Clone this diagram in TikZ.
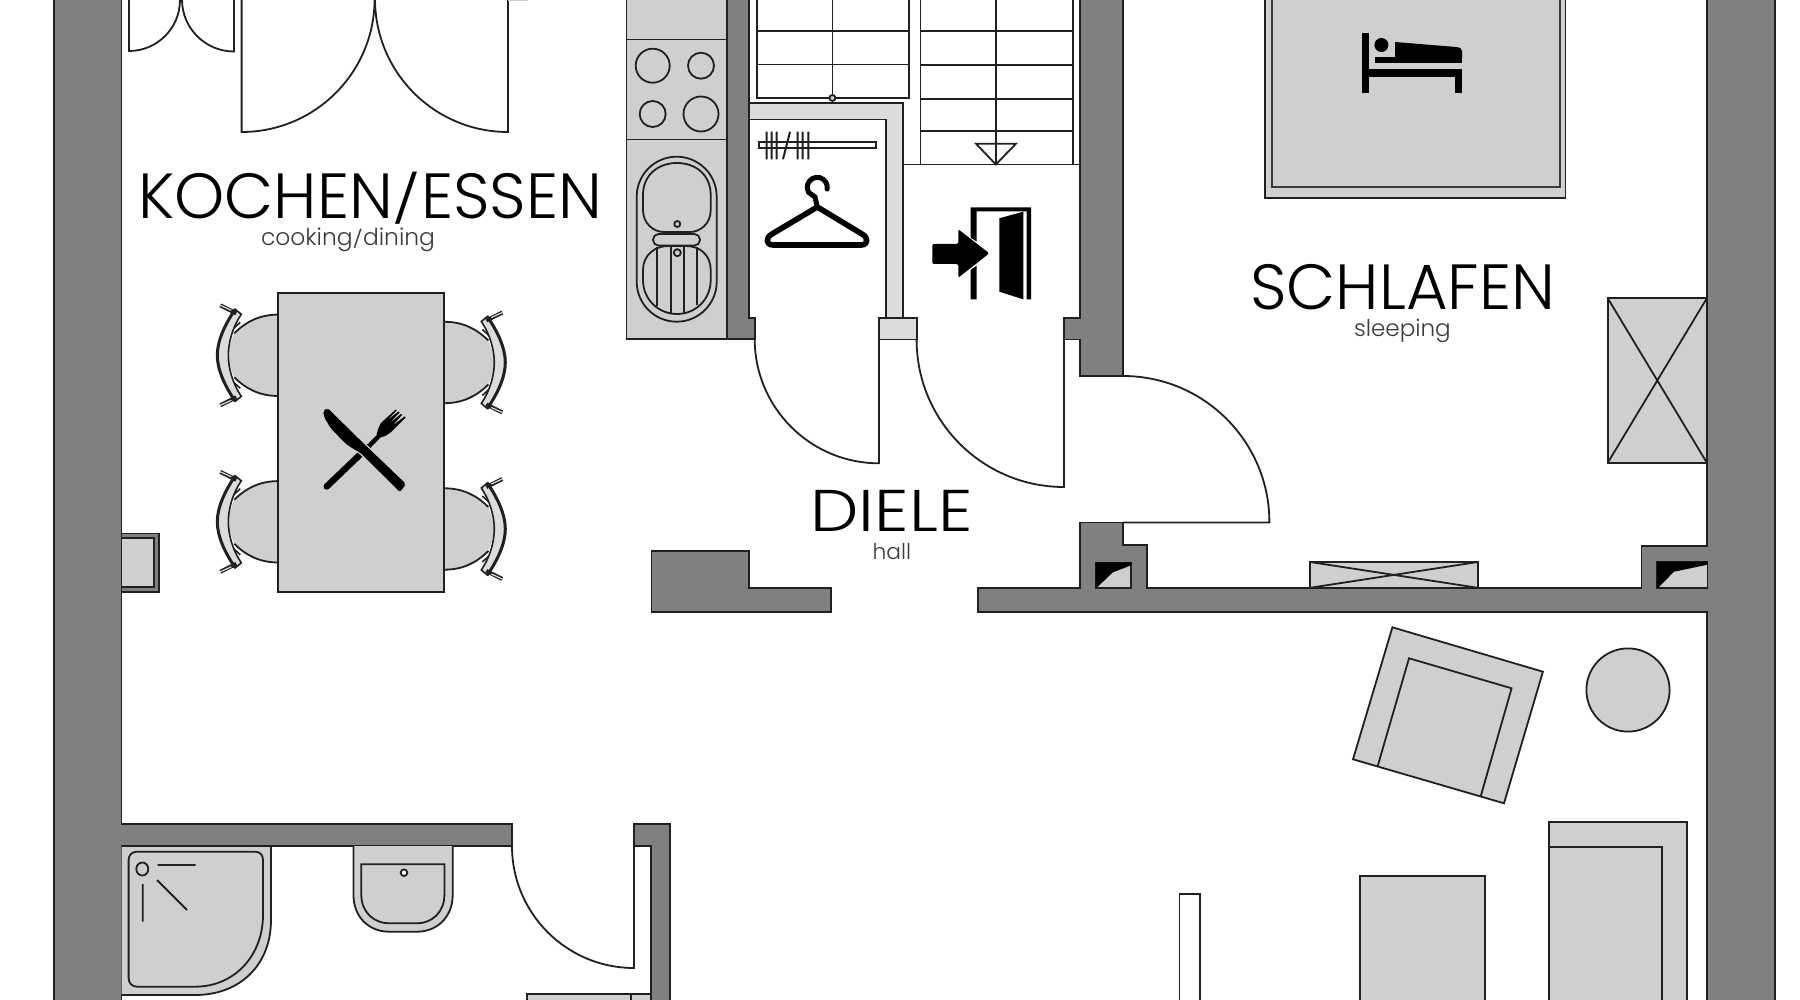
\documentclass[tikz,border=0pt]{standalone}
\usepackage{fontspec}
\usepackage{graphicx}
\newfontfamily\lightfont{Poppins}[UprightFont=* Light]
\definecolor{wallgray}{HTML}{808080}
\definecolor{ink}{HTML}{202020}
\definecolor{lightfill}{HTML}{CFCFCF}
\definecolor{closetfill}{HTML}{DCDCDC}
\definecolor{subink}{HTML}{3A3A3A}
\newcommand{\shortslash}{\raisebox{0.03em}{\scalebox{1}[0.74]{/}}}
\tikzset{
  ln/.style={draw=ink,line width=0.9pt,line join=miter},
  wall/.style={ln,fill=wallgray},
  furn/.style={ln,fill=lightfill},
  plain/.style={ln,fill=white},
  solid ink/.style={fill=black,draw=none},
  biglabel/.style={anchor=base west,inner sep=0pt,outer sep=0pt,text=black,font=\lightfont},
  sublabel/.style={anchor=base west,inner sep=0pt,outer sep=0pt,text=subink,font=\lightfont}
}
\newcommand{\seatchair}[3]{%
 \begin{scope}[shift={(#1,#2)},xscale=#3]
  \path[fill=lightfill] (0,40.7) .. controls (18,40.7) and (32,34) .. (44,22) .. controls (48,12) and (50,6) .. (50,0) .. controls (50,-6) and (48,-12) .. (44,-22) .. controls (32,-34) and (18,-40.7) .. (0,-40.7) -- cycle;
  \draw[ln] (0,40.7) .. controls (18,40.7) and (32,34) .. (44,22);
  \draw[ln] (0,-40.7) .. controls (18,-40.7) and (32,-34) .. (44,-22);
  \path[fill=white] (39,33) -- (49,31) -- (49,23) -- cycle;
  \path[fill=white] (39,-33) -- (49,-31) -- (49,-23) -- cycle;
  \draw[ink,line width=0.8pt] (38,33) -- (49,23);
  \draw[ink,line width=0.8pt] (38,-33) -- (49,-23);
  \path[draw=ink,line width=0.8pt,fill=closetfill] (43,46) .. controls (54,30) and (61,14) .. (61,0) .. controls (61,-14) and (54,-30) .. (43,-46) -- (37,-41) .. controls (46,-28) and (50,-12) .. (50,0) .. controls (50,12) and (46,28) .. (37,41) -- cycle;
  \draw[ink,line width=1.5pt] (43,46) .. controls (54,30) and (61,14) .. (61,0) .. controls (61,-14) and (54,-30) .. (43,-46);
  \draw[ink,line width=2pt] (42,42) -- (58,50);
  \draw[ink,line width=2pt] (42,-42) -- (58,-50);
  \draw[closetfill,line width=0.6pt] (47,45) -- (58,50);
  \draw[closetfill,line width=0.6pt] (47,-45) -- (58,-50);
 \end{scope}}
\newcommand{\ventshape}[4]{%
  \path[furn] (#1,#3) rectangle (#2,#4);
  \path[solid ink] (#1,#3) -- (#2,#3) -- (#2,#3+3) -- (#1+17,#3+10) -- (#1+1,#4) -- (#1,#4) -- cycle;
}
\begin{document}
\begin{tikzpicture}[x=0.5pt,y=-0.5pt]
\useasboundingbox (0,0) rectangle (1800,1000);
\fill[white] (0,0) rectangle (1800,1000);

% kitchen
\path[furn] (626.5,-5) rectangle (727,339);
\draw[ln] (626.5,39.6) -- (727,39.6);
\draw[ln] (626.5,139.5) -- (727,139.5);
\foreach \cx/\cy/\r/\nm in {652.7/65.7/17/b1,701/65.7/13/b2,652.7/114/13/b3,701/114/17.5/b4}
  \draw[ln] (\cx,\cy) circle[radius=\r];
\path[furn,rounded corners=20pt] (636.7,156.7) rectangle (716.7,321.7);
\draw[ln] (643,195) .. controls (643,175) and (658,163) .. (677,163) .. controls (696,163) and (710.7,175) .. (710.7,195) -- (710.7,210) .. controls (710.7,224) and (700,232) .. (690,232) -- (664,232) .. controls (654,232) and (643,224) .. (643,210) -- cycle;
\draw[ln] (643,270) .. controls (643,255) and (655,246) .. (668,246) -- (686,246) .. controls (700,246) and (710.7,255) .. (710.7,270) -- (710.7,280) .. controls (710.7,300) and (695,314) .. (677,314) .. controls (659,314) and (643,300) .. (643,280) -- cycle;
\draw[ln,rounded corners=2.8pt] (653,234) rectangle (700,245.6);
\draw[ln] (656.7,247) -- (656.7,306) (670.7,246) -- (670.7,313) (684,246) -- (684,313) (697.3,247) -- (697.3,305);
\path[ln,fill=lightfill] (677.3,224) circle[radius=3];
\path[ln,fill=lightfill] (677.3,252.7) circle[radius=3.5];

% stairs
\draw[ln] (756.6,-5) -- (756.6,98) -- (909,98) -- (909,-5);
\draw[ln] (832.4,-5) -- (832.4,98);
\draw[ln] (756.6,31.4) -- (909,31.4) (756.6,64.5) -- (909,64.5);
\path[ln,fill=lightfill] (832.4,98) circle[radius=3];
\draw[ln] (920.4,-5) -- (920.4,164.5) (1072.7,-5) -- (1072.7,164.5);
\draw[ln] (995.8,-5) -- (995.8,164.5);
\draw[ln] (920.4,31.4) -- (1072.7,31.4) (920.4,65) -- (1072.7,65) (920.4,98.8) -- (1072.7,98.8) (920.4,131.4) -- (1072.7,131.4);
\draw[ln] (976,143.7) -- (1016,143.7) -- (995.8,164.5) -- cycle;
\draw[ln] (903,164.5) -- (1080,164.5);

% closet
\path[ln,fill=closetfill] (748.6,103) -- (903,103) -- (903,318) -- (886,318) -- (886,119.6) -- (748.6,119.6) -- cycle;
\path[furn,fill=closetfill] (879,318) rectangle (916.6,339.6);
\path[plain] (759,141.7) rectangle (876,148.3);
\draw[ink,line width=1pt] (766.7,131.7) -- (766.7,159.3) (771.7,131.7) -- (771.7,159.3) (776.7,131.7) -- (776.7,159.3) (790,131.7) -- (783,159.3) (797.7,131.7) -- (797.7,159.3) (802.7,131.7) -- (802.7,159.3) (808.3,131.7) -- (808.3,159.3);

% hanger
\draw[black,line width=2.8pt,line join=round,line cap=round] (817.3,207) -- (772,234) .. controls (765,238) and (766,245) .. (773,245) -- (861,245) .. controls (868,245) and (869,238) .. (862,234) -- cycle;
\draw[black,line width=2.5pt,line cap=round] (817.3,207) -- (815,197) -- (808.6,192.3) arc[start angle=150,end angle=370,radius=10];

% entrance icon
\path[solid ink] (970.7,207.3) -- (1031,207.3) -- (1031,299.3) -- (1026.7,299.3) -- (1026.7,211.5) -- (976.7,211.5) -- (976.7,299.3) -- (970.7,299.3) -- cycle;
\path[solid ink] (999.3,218.3) -- (1023.3,211.7) -- (1023.3,299.3) -- (999.3,291.7) -- cycle;
\path[fill=white] (952,226) -- (995,253.3) -- (952,282) -- cycle;
\path[solid ink,rounded corners=0.7pt] (932.3,244) -- (958.3,244) -- (958.3,229.3) -- (989.3,253.3) -- (958.3,277.7) -- (958.3,264) -- (932.3,264) -- cycle;

% walls
\path[wall] (54,-5) -- (121.5,-5) -- (121.5,824) -- (512,824) -- (512,846) -- (121.5,846) -- (121.5,1005) -- (54,1005) -- cycle;
\path[wall] (633.6,824) -- (670,824) -- (670,1005) -- (650.6,1005) -- (650.6,846) -- (633.6,846) -- cycle;
\path[wall] (727,-5) -- (748.6,-5) -- (748.6,318) -- (754.7,318) -- (754.7,339) -- (727,339) -- cycle;
\path[wall] (1080,-5) -- (1123,-5) -- (1123,376) -- (1080,376) -- (1080,339.6) -- (1064,339.6) -- (1064,318.4) -- (1080,318.4) -- cycle;
\path[wall] (651.4,551) -- (748.6,551) -- (748.6,587.8) -- (831,587.8) -- (831,612) -- (651.4,612) -- cycle;
\path[wall] (977.8,612) -- (977.8,587.8) -- (1080,587.8) -- (1080,522.4) -- (1123,522.4) -- (1123,545) -- (1147,545) -- (1147,587.8) -- (1641.5,587.8) -- (1641.5,546) -- (1707,546) -- (1707,-5) -- (1775,-5) -- (1775,1005) -- (1707,1005) -- (1707,612) -- cycle;
\ventshape{1095.7}{1131}{562.4}{587.8}
\ventshape{1657}{1707.5}{561.7}{587.8}

% doors
\draw[ln] (754.7,339) arc[start angle=180,end angle=90,radius=124.3] -- (879,339.6);
\draw[ln] (916.6,339.6) arc[start angle=180,end angle=90,radius=147.4] -- (1064,339.6);
\draw[ln] (1123,376) arc[start angle=-90,end angle=0,radius=146.4] -- (1123,522.4);
\draw[ln] (512,846) arc[start angle=180,end angle=90,radius=122] -- (634,846);
\draw[ln] (129,-5) -- (129,51) arc[start angle=90,end angle=0,radius=51];
\draw[ln] (234,-5) -- (234,51.5) arc[start angle=90,end angle=180,radius=52];
\draw[ln] (241.6,-5) -- (241.6,132) arc[start angle=90,end angle=0,radius=133];
\draw[ln] (508,-5) -- (508,132) arc[start angle=90,end angle=180,radius=133];
\draw[lightfill,line width=0.8pt] (508,0.5) -- (528,0.5);

% dining
\seatchair{278.3}{355.3}{-1}
\seatchair{278.3}{521.8}{-1}
\seatchair{444.3}{362.5}{1}
\seatchair{444.3}{529}{1}
\path[furn] (278.3,293.3) rectangle (444.3,592.3);
\draw[black,line width=3.2pt,line cap=round] (326.7,486.5) -- (368,447);
\draw[black,line width=2.2pt] (368,447) -- (378,437);
\path[solid ink,line join=round] (376,439) .. controls (377,432) and (378,428) .. (381,423) -- (395.7,409.5) -- (396.7,410.5) -- (386,421) -- (398.5,411.5) -- (399.5,412.5) -- (389,423.5) -- (401,414) -- (402,415) -- (392,426) -- (404.5,416.5) -- (405.5,417.5) -- (391,432) .. controls (387,436) and (382,437) .. (376,439) -- cycle;
\path[solid ink,rounded corners=1pt,preaction={draw=lightfill,line width=1.4pt}] (323,411) -- (327.5,408) -- (360,440) -- (406,484) -- (400,492) -- (360,452.5) -- (352,448) -- (346,444) -- (331,428.5) -- (324.5,418) -- cycle;

% heater
\path[ln,fill=wallgray] (121.5,533.5) rectangle (158.8,592);
\path[ln,fill=lightfill] (121.5,538) rectangle (154.3,587);

% bed
\path[furn] (1265,-5) rectangle (1565.5,198.4);
\path[draw=subink,line width=0.9pt,fill=lightfill] (1271.6,-5) rectangle (1559.7,187);
\path[solid ink] (1361.5,32.6) rectangle (1369,93);
\path[solid ink] (1369,69.4) rectangle (1462,77.5);
\path[solid ink] (1454.5,69.4) rectangle (1462,93);
\path[solid ink] (1381.4,45) circle[radius=7];
\path[solid ink] (1375,57) rectangle (1462,63);
\path[solid ink] (1395,42) -- (1456,47) .. controls (1460,47.5) and (1462,48.5) .. (1462,51) -- (1462,58) -- (1395,58) -- cycle;

% wardrobe and window
\path[furn] (1607.6,298) rectangle (1707,463);
\draw[ln] (1607.6,298) -- (1707,463) (1607.6,463) -- (1707,298);
\path[furn] (1310,562) rectangle (1477.7,587.8);
\draw[ln] (1310,562) -- (1477.7,587.8) (1310,587.8) -- (1477.7,562);

% living
\path[furn] (1392.4,627.3) -- (1542.9,671.7) -- (1504,803.3) -- (1353,759.3) -- cycle;
\draw[ln] (1377.7,766) -- (1409,658.3) -- (1511.6,688.3) -- (1480.8,796);
\path[furn] (1628,690) circle[radius=41.6];
\path[furn] (1548.7,821.7) rectangle (1687,1005);
\draw[ln] (1548.7,847.3) -- (1661.6,847.3) -- (1661.6,1005);
\path[furn] (1360,875.7) rectangle (1484.8,1005);
\path[plain] (1179.5,894) rectangle (1200,1005);

% bath
\path[furn] (121.5,846) -- (271,846) -- (271,920) .. controls (271,965) and (240,995) .. (195,995) -- (121.5,995);
\draw[ln] (137,851.7) -- (255,851.7) .. controls (260,851.7) and (263,855) .. (263,860) -- (263,915) .. controls (263,955) and (235,986.7) .. (195,986.7) -- (137,986.7) .. controls (132,986.7) and (128.6,983) .. (128.6,978) -- (128.6,860) .. controls (128.6,855) and (132,851.7) .. (137,851.7) -- cycle;
\path[ln,fill=lightfill] (142.3,869) ellipse[x radius=6,y radius=6.5];
\draw[ln] (157.5,865) -- (195.6,865) (142.8,884) -- (142.8,921.7) (157,880) -- (187,910);
\path[furn] (353.5,846) -- (353.5,895) .. controls (353.5,917) and (369,931.7) .. (389,931.7) -- (417,931.7) .. controls (437,931.7) and (452.7,917) .. (452.7,895) -- (452.7,846);
\draw[ln] (361.3,864.3) -- (444.4,864.3) -- (444.4,895) .. controls (444.4,912) and (432,923.3) .. (417,923.3) -- (389,923.3) .. controls (374,923.3) and (361.3,912) .. (361.3,895) -- cycle;
\path[ln,fill=white] (404,872.7) circle[radius=3.3];
\path[furn] (526.6,994) rectangle (650.6,1005);
\draw[ln] (631,994) -- (631,1005);

% labels
\node[biglabel] (kochen) at (138,218.4) {\resizebox{232pt}{!}{KOCHEN\shortslash ESSEN}};
\node[sublabel] (cooking) at (261,246) {\resizebox{87pt}{!}{cooking\shortslash dining}};
\node[biglabel] (schlafen) at (1250,309) {\resizebox{152.5pt}{!}{SCHLAFEN}};
\node[sublabel] (sleeping) at (1354,336.7) {\resizebox{48.4pt}{!}{sleeping}};
\node[biglabel] (diele) at (810.5,531) {\resizebox{81pt}{20.6pt}{DIELE}};
\node[sublabel] (hall) at (872.6,559) {\resizebox{19.2pt}{!}{hall}};
\end{tikzpicture}
\end{document}
